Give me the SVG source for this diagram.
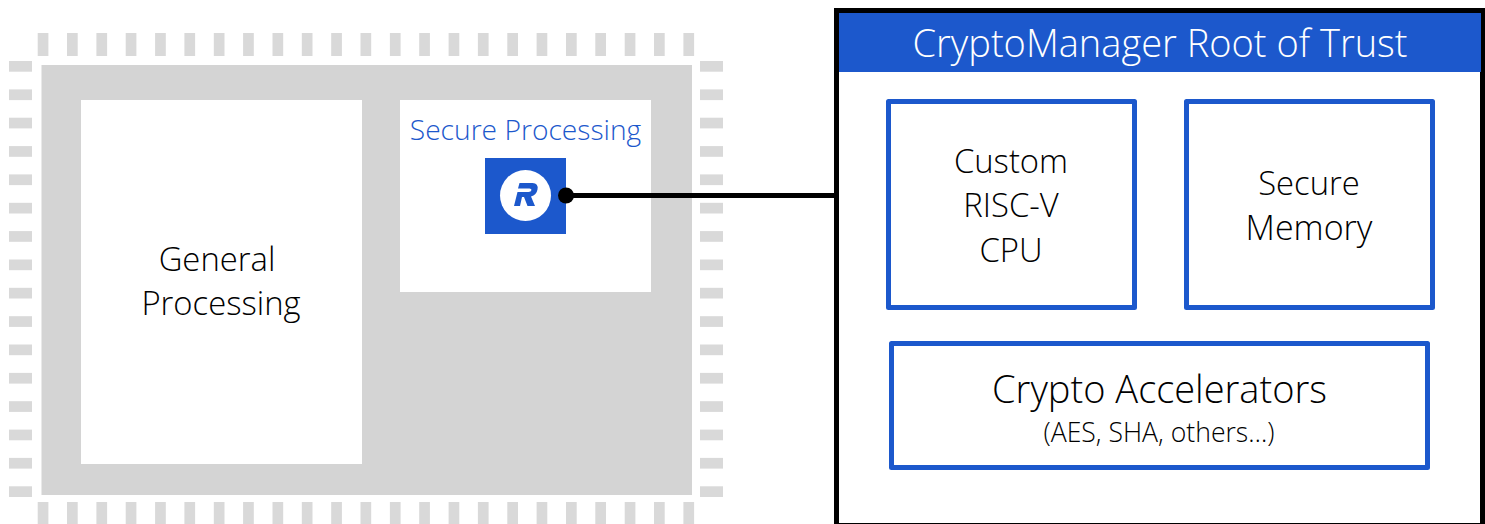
<svg xmlns="http://www.w3.org/2000/svg" width="1485" height="524" viewBox="0 0 1485 524">
<style>
text{font-family:"Open Sans","Noto Sans","Liberation Sans",sans-serif;font-weight:300;fill:#000;text-anchor:middle}
.pin{fill:#d9d9d9}
.blk{fill:#fff;stroke:#1c58cc;stroke-width:5;stroke-linejoin:round}
.t{font-size:32.800px}
</style>
<defs>
<rect id="v" class="pin" width="10.7" height="23"/>
<rect id="h" class="pin" width="23" height="10.7"/>
</defs>
<rect width="1485" height="524" fill="#fff"/>
<g id="chip">
<rect x="41.500" y="65" width="650.500" height="430" fill="#d4d4d4"/>
<g id="pins-top">
<use href="#v" x="37.7" y="33"/><use href="#v" x="67" y="33"/><use href="#v" x="96.4" y="33"/><use href="#v" x="125.7" y="33"/><use href="#v" x="155.1" y="33"/><use href="#v" x="184.4" y="33"/><use href="#v" x="213.8" y="33"/><use href="#v" x="243.1" y="33"/><use href="#v" x="272.5" y="33"/><use href="#v" x="301.8" y="33"/><use href="#v" x="331.2" y="33"/><use href="#v" x="360.5" y="33"/><use href="#v" x="389.9" y="33"/><use href="#v" x="419.2" y="33"/><use href="#v" x="448.6" y="33"/><use href="#v" x="477.9" y="33"/><use href="#v" x="507.3" y="33"/><use href="#v" x="536.6" y="33"/><use href="#v" x="566" y="33"/><use href="#v" x="595.3" y="33"/><use href="#v" x="624.7" y="33"/><use href="#v" x="654" y="33"/><use href="#v" x="683.4" y="33"/>
</g>
<g id="pins-bottom">
<use href="#v" x="37.7" y="502"/><use href="#v" x="67" y="502"/><use href="#v" x="96.4" y="502"/><use href="#v" x="125.7" y="502"/><use href="#v" x="155.1" y="502"/><use href="#v" x="184.4" y="502"/><use href="#v" x="213.8" y="502"/><use href="#v" x="243.1" y="502"/><use href="#v" x="272.5" y="502"/><use href="#v" x="301.8" y="502"/><use href="#v" x="331.2" y="502"/><use href="#v" x="360.5" y="502"/><use href="#v" x="389.9" y="502"/><use href="#v" x="419.2" y="502"/><use href="#v" x="448.6" y="502"/><use href="#v" x="477.9" y="502"/><use href="#v" x="507.3" y="502"/><use href="#v" x="536.6" y="502"/><use href="#v" x="566" y="502"/><use href="#v" x="595.3" y="502"/><use href="#v" x="624.7" y="502"/><use href="#v" x="654" y="502"/><use href="#v" x="683.4" y="502"/>
</g>
<g id="pins-left">
<use href="#h" x="9" y="61"/><use href="#h" x="9" y="89.4"/><use href="#h" x="9" y="117.7"/><use href="#h" x="9" y="146.1"/><use href="#h" x="9" y="174.4"/><use href="#h" x="9" y="202.8"/><use href="#h" x="9" y="231.1"/><use href="#h" x="9" y="259.5"/><use href="#h" x="9" y="287.8"/><use href="#h" x="9" y="316.2"/><use href="#h" x="9" y="344.5"/><use href="#h" x="9" y="372.9"/><use href="#h" x="9" y="401.2"/><use href="#h" x="9" y="429.6"/><use href="#h" x="9" y="457.9"/><use href="#h" x="9" y="486.3"/>
</g>
<g id="pins-right">
<use href="#h" x="700" y="61"/><use href="#h" x="700" y="89.4"/><use href="#h" x="700" y="117.7"/><use href="#h" x="700" y="146.1"/><use href="#h" x="700" y="174.4"/><use href="#h" x="700" y="202.8"/><use href="#h" x="700" y="231.1"/><use href="#h" x="700" y="259.5"/><use href="#h" x="700" y="287.8"/><use href="#h" x="700" y="316.2"/><use href="#h" x="700" y="344.5"/><use href="#h" x="700" y="372.9"/><use href="#h" x="700" y="401.2"/><use href="#h" x="700" y="429.6"/><use href="#h" x="700" y="457.9"/><use href="#h" x="700" y="486.3"/>
</g>
</g>
<g id="general-processing">
<rect x="81" y="100" width="281" height="364" fill="#fff"/>
<text class="t" x="217" y="270.500">General</text>
<text class="t" x="221" y="314.500">Processing</text>
</g>
<g id="secure-processing">
<rect x="400" y="100" width="251" height="192" fill="#fff"/>
<text x="525.500" y="140" font-size="28.200" style="fill:#1c58cc">Secure Processing</text>
</g>
<g id="logo">
<rect x="485" y="158" width="81" height="76" fill="#1c58cc"/>
<circle cx="525.500" cy="195.500" r="25.500" fill="#fff"/>
<path d="M519.500 183H532.500Q538.500 183 537.500 189.500Q536.500 195 531 196.500L535 206H527.500L524 197H522L520 206H514L517.500 192H528.500Q531 192 531.500 190Q531.500 188.500 529.500 188.500H518Z" fill="#1c58cc"/>
</g>
<g id="root-of-trust">
<rect x="836.500" y="10.500" width="646" height="515" fill="#fff" stroke="#000" stroke-width="5"/>
<rect x="839" y="13" width="642" height="59" fill="#1c58cc"/>
<text x="1160" y="56.500" font-size="38" style="fill:#fff">CryptoManager Root of Trust</text>
</g>
<g id="custom-cpu">
<rect class="blk" x="888.500" y="101.500" width="246" height="206"/>
<text class="t" x="1011" y="173">Custom</text>
<text class="t" x="1011" y="217">RISC-V</text>
<text class="t" x="1011" y="262">CPU</text>
</g>
<g id="secure-memory">
<rect class="blk" x="1186.500" y="101.500" width="246" height="206"/>
<text class="t" x="1309" y="195">Secure</text>
<text class="t" x="1309" y="240" style="font-size:34px">Memory</text>
</g>
<g id="crypto-accelerators">
<rect class="blk" x="891.500" y="343.500" width="536" height="124"/>
<text x="1159.500" y="403" font-size="38">Crypto Accelerators</text>
<text x="1159" y="442" font-size="26.600">(AES, SHA, others…)</text>
</g>
<g id="connectors">
<line x1="566" y1="195.500" x2="836" y2="195.500" stroke="#000" stroke-width="5"/>
<circle cx="566" cy="195.500" r="8" fill="#000"/>
</g>
</svg>
